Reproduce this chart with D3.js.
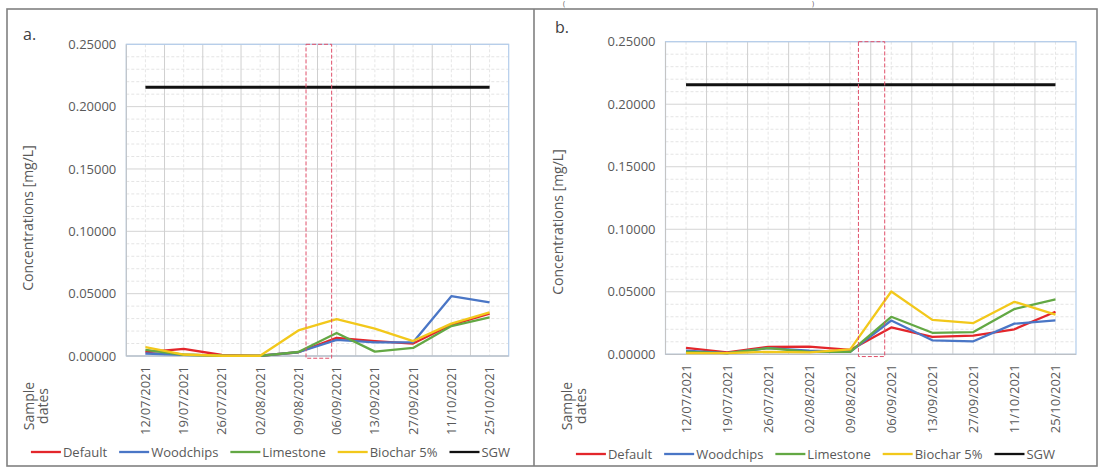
<!DOCTYPE html>
<html>
<head>
<meta charset="utf-8">
<script src="https://cdn.jsdelivr.net/npm/d3@7"></script>
<style>
    body { margin: 0; background: #fff; }
    svg { display: block; font-family: "Open Sans", sans-serif; }
</style>
</head>
<body>
<svg id="chart" width="1098" height="469"></svg>
<script>
// categories and shared labels
const sampleDates = ["12/07/2021", "19/07/2021", "26/07/2021", "02/08/2021", "09/08/2021",
    "06/09/2021", "13/09/2021", "27/09/2021", "11/10/2021", "25/10/2021"];
const seriesNames = ["Default", "Woodchips", "Limestone", "Biochar 5%", "SGW"];
const seriesColors = ["#e3262b", "#4a76c6", "#63a844", "#f2c81b", "#111111"];
const yTickValues = [0, 0.05, 0.10, 0.15, 0.20, 0.25];

// panel a values [mg/L]
const defaultA   = [0.0030, 0.0057, 0.0008, 0.0002, 0.0030, 0.0145, 0.0120, 0.0100, 0.0250, 0.0340];
const woodchipsA = [0.0020, 0.0010, 0.0003, 0.0002, 0.0030, 0.0130, 0.0110, 0.0110, 0.0480, 0.0430];
const limestoneA = [0.0050, 0.0010, 0.0002, 0.0001, 0.0032, 0.0185, 0.0035, 0.0065, 0.0240, 0.0310];
const biocharA   = [0.0072, 0.0012, 0.0002, 0.0002, 0.0205, 0.0295, 0.0220, 0.0120, 0.0260, 0.0350];
const sgwA       = [0.2155, 0.2155, 0.2155, 0.2155, 0.2155, 0.2155, 0.2155, 0.2155, 0.2155, 0.2155];
// dashed highlight box: [from category, to category, top value, bottom value]
const highlightA = [4.70, 5.37, 0.25, -0.0018];

// panel b values [mg/L]
const defaultB   = [0.0052, 0.0015, 0.0060, 0.0062, 0.0035, 0.0215, 0.0140, 0.0150, 0.0200, 0.0340];
const woodchipsB = [0.0030, 0.0010, 0.0050, 0.0030, 0.0020, 0.0270, 0.0112, 0.0104, 0.0245, 0.0272];
const limestoneB = [0.0020, 0.0010, 0.0050, 0.0020, 0.0020, 0.0300, 0.0172, 0.0178, 0.0362, 0.0440];
const biocharB   = [0.0010, 0.0010, 0.0020, 0.0015, 0.0040, 0.0502, 0.0275, 0.0250, 0.0420, 0.0318];
const sgwB       = [0.2155, 0.2155, 0.2155, 0.2155, 0.2155, 0.2155, 0.2155, 0.2155, 0.2155, 0.2155];
const highlightB = [4.70, 5.34, 0.25, -0.0018];

class ConcentrationPanel {

    constructor(svg, config, series, highlight) {
        this.svg = svg;
        this.config = config;
        this.series = series;
        this.highlight = highlight;
        this.initVis();
    }

    initVis() {
        let vis = this;
        let c = vis.config;

        vis.g = vis.svg.append("g");

        // scales
        vis.x = d3.scaleBand()
            .domain(sampleDates)
            .range([c.left, c.right]);
        vis.xIndex = d3.scaleLinear()
            .domain([0, sampleDates.length])
            .range([c.left, c.right]);
        vis.y = d3.scaleLinear()
            .domain([0, 0.25])
            .range([c.bottom, c.top]);

        let cx = d => vis.x(d) + vis.x.bandwidth() / 2;

        // minor grid
        let minor = d3.range(0, 0.2501, 0.01).filter(v => Math.round(v * 100) % 5 !== 0);
        vis.g.append("g").selectAll("line")
            .data(minor)
            .join("line")
            .attr("x1", c.left).attr("x2", c.right)
            .attr("y1", d => vis.y(d)).attr("y2", d => vis.y(d))
            .attr("stroke", "#e4e4e4")
            .attr("stroke-dasharray", "3,2");
        vis.g.append("g").selectAll("line")
            .data(sampleDates)
            .join("line")
            .attr("x1", cx).attr("x2", cx)
            .attr("y1", c.top).attr("y2", c.bottom)
            .attr("stroke", "#e6e6e6")
            .attr("stroke-dasharray", "3,2");

        // major grid
        vis.g.append("g").selectAll("line")
            .data(yTickValues)
            .join("line")
            .attr("x1", c.left).attr("x2", c.right)
            .attr("y1", d => vis.y(d)).attr("y2", d => vis.y(d))
            .attr("stroke", "#d4d4d4");
        vis.g.append("g").selectAll("line")
            .data(d3.range(1, sampleDates.length))
            .join("line")
            .attr("x1", d => vis.xIndex(d)).attr("x2", d => vis.xIndex(d))
            .attr("y1", c.top).attr("y2", c.bottom)
            .attr("stroke", "#cfcfcf");

        // plot area border
        vis.g.append("rect")
            .attr("x", c.left).attr("y", c.top)
            .attr("width", c.right - c.left).attr("height", c.bottom - c.top)
            .attr("fill", "none")
            .attr("stroke", "#b3cdec")
            .attr("stroke-width", 1.2);

        // axes
        vis.g.append("line")
            .attr("x1", c.left).attr("x2", c.left)
            .attr("y1", c.top).attr("y2", c.bottom)
            .attr("stroke", "#c4c4c4");
        vis.g.append("line")
            .attr("x1", c.left).attr("x2", c.right)
            .attr("y1", c.bottom).attr("y2", c.bottom)
            .attr("stroke", "#bdbdbd");

        vis.g.append("g").selectAll("text")
            .data(yTickValues)
            .join("text")
            .attr("x", c.left - 10)
            .attr("y", d => vis.y(d))
            .attr("dy", "0.35em")
            .attr("text-anchor", "end")
            .attr("font-size", 13)
            .attr("fill", "#595959")
            .text(d => d3.format(".5f")(d));

        vis.g.append("g").selectAll("text")
            .data(sampleDates)
            .join("text")
            .attr("transform", d => "translate(" + cx(d) + "," + (c.bottom + 10) + ") rotate(-90)")
            .attr("dy", "0.35em")
            .attr("text-anchor", "end")
            .attr("font-size", 13)
            .attr("fill", "#595959")
            .text(d => d);

        // titles
        vis.g.append("text")
            .attr("transform", "translate(" + c.yTitleX + "," + c.yTitleY + ") rotate(-90)")
            .attr("dy", "0.35em")
            .attr("text-anchor", "middle")
            .attr("font-size", 14)
            .attr("fill", "#595959")
            .text("Concentrations [mg/L]");
        ["Sample", "dates"].forEach((t, i) => {
            vis.g.append("text")
                .attr("transform", "translate(" + (c.sampleX + i * 14) + "," + c.sampleY + ") rotate(-90)")
                .attr("dy", "0.35em")
                .attr("text-anchor", "middle")
                .attr("font-size", 14)
                .attr("fill", "#595959")
                .text(t);
        });
        vis.g.append("text")
            .attr("x", c.labelX).attr("y", c.labelY)
            .attr("font-size", 16)
            .attr("fill", "#404040")
            .text(c.label);

        // series
        let line = d3.line()
            .x((d, i) => cx(sampleDates[i]))
            .y(d => vis.y(d));

        vis.g.append("g").selectAll("path")
            .data(vis.series)
            .join("path")
            .attr("d", d => line(d))
            .attr("fill", "none")
            .attr("stroke", (d, i) => seriesColors[i])
            .attr("stroke-width", (d, i) => i === 4 ? 3 : 2.3)
            .attr("stroke-linejoin", "round");

        // red dashed highlight box
        let h = vis.highlight;
        vis.g.append("rect")
            .attr("x", vis.xIndex(h[0]))
            .attr("y", vis.y(h[2]))
            .attr("width", vis.xIndex(h[1]) - vis.xIndex(h[0]))
            .attr("height", vis.y(h[3]) - vis.y(h[2]))
            .attr("fill", "none")
            .attr("stroke", "#e0506a")
            .attr("stroke-width", 1)
            .attr("stroke-dasharray", "4,2");

        // legend, centred in the panel
        let legend = vis.g.append("g");
        let xPos = 0;
        seriesNames.forEach((name, i) => {
            legend.append("line")
                .attr("x1", xPos).attr("x2", xPos + 30)
                .attr("y1", 0).attr("y2", 0)
                .attr("stroke", seriesColors[i])
                .attr("stroke-width", 2.3);
            let t = legend.append("text")
                .attr("x", xPos + 32)
                .attr("dy", "0.35em")
                .attr("font-size", 13)
                .attr("fill", "#595959")
                .text(name);
            xPos += 32 + t.node().getComputedTextLength() + 12;
        });
        let legendW = xPos - 12;
        legend.attr("transform", "translate(" + ((c.frameLeft + c.frameRight) / 2 - legendW / 2) + "," + c.legendY + ")");
    }
}

let svg = d3.select("#chart");

// panel frames
svg.append("rect")
    .attr("x", 7).attr("y", 9)
    .attr("width", 1090).attr("height", 457)
    .attr("fill", "none")
    .attr("stroke", "#808080")
    .attr("stroke-width", 1.6);
svg.append("line")
    .attr("x1", 534).attr("x2", 534)
    .attr("y1", 9).attr("y2", 466)
    .attr("stroke", "#808080")
    .attr("stroke-width", 1.6);

// remnant of the caption above the panels
svg.append("text").attr("x", 563).attr("y", 6).attr("font-size", 7).attr("fill", "#555").text("(");
svg.append("text").attr("x", 812).attr("y", 6).attr("font-size", 7).attr("fill", "#555").text(")");

new ConcentrationPanel(svg, {
    left: 126.3, right: 508.7, top: 44.3, bottom: 356,
    frameLeft: 7, frameRight: 534, legendY: 452,
    label: "a.", labelX: 23, labelY: 40,
    yTitleX: 28, yTitleY: 218, sampleX: 29, sampleY: 406
}, [defaultA, woodchipsA, limestoneA, biocharA, sgwA], highlightA);

new ConcentrationPanel(svg, {
    left: 665.5, right: 1076, top: 41.7, bottom: 354.3,
    frameLeft: 534, frameRight: 1097, legendY: 454,
    label: "b.", labelX: 555, labelY: 33,
    yTitleX: 558, yTitleY: 222, sampleX: 567, sampleY: 406
}, [defaultB, woodchipsB, limestoneB, biocharB, sgwB], highlightB);
</script>
</body>
</html>
